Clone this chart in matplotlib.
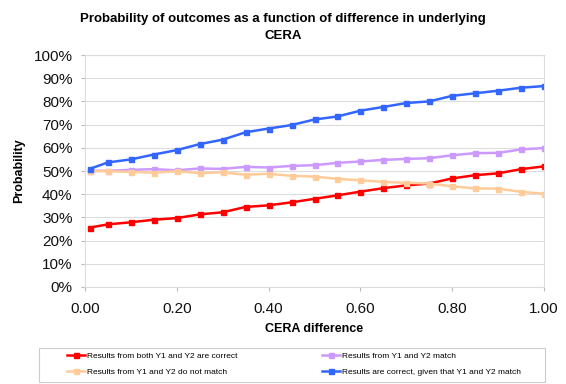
import matplotlib
matplotlib.use("Agg")
import matplotlib.pyplot as plt
from matplotlib.ticker import FuncFormatter, MultipleLocator
from matplotlib.patches import Rectangle

plt.rcParams['font.family'] = ['Liberation Sans', 'DejaVu Sans']

x = [0.01, 0.05, 0.10, 0.15, 0.20, 0.25, 0.30, 0.35, 0.40, 0.45, 0.50,
     0.55, 0.60, 0.65, 0.70, 0.75, 0.80, 0.85, 0.90, 0.95, 1.00]

both_correct = [25.6, 27.0, 27.9, 29.0, 29.7, 31.3, 32.2, 34.5, 35.2, 36.5, 38.0,
                39.5, 41.1, 42.6, 43.8, 44.6, 46.8, 48.2, 49.0, 50.8, 52.0]
match = [50.1, 50.1, 50.5, 50.8, 50.3, 51.1, 50.9, 51.8, 51.5, 52.2, 52.5,
         53.5, 54.1, 54.8, 55.2, 55.5, 56.8, 57.7, 57.8, 59.3, 59.9]
no_match = [49.9, 49.9, 49.6, 49.3, 49.9, 49.1, 49.4, 48.4, 48.8, 47.9, 47.6,
            46.6, 46.0, 45.3, 44.9, 44.6, 43.4, 42.5, 42.4, 41.0, 40.2]
correct_given_match = [50.9, 53.7, 55.0, 57.1, 59.0, 61.6, 63.5, 66.7, 68.3, 69.8, 72.2,
                       73.5, 76.0, 77.6, 79.3, 80.0, 82.4, 83.5, 84.6, 85.9, 86.6]

labels = ["Results from both Y1 and Y2 are correct",
          "Results from Y1 and Y2 match",
          "Results from Y1 and Y2 do not match",
          "Results are correct, given that Y1 and Y2 match"]
colors = ["#FF0000", "#CC99FF", "#FFCC99", "#3366FF"]

W, H = 566, 384
fig = plt.figure(figsize=(W/100, H/100), dpi=100)
ax = fig.add_axes([85/W, 1-287/H, (544-85)/W, (287-55)/H])

series = [both_correct, match, no_match, correct_given_match]
handles = []
for s, c, l in zip(series, colors, labels):
    h, = ax.plot(x, s, color=c, lw=1.8, marker='s', ms=3.6, label=l)
    handles.append(h)

ax.set_xlim(0, 1.0)
ax.set_ylim(0, 100)
ax.yaxis.set_major_locator(MultipleLocator(10))
ax.xaxis.set_major_locator(MultipleLocator(0.2))
ax.yaxis.set_major_formatter(FuncFormatter(lambda v, p: f"{v:.0f}%"))
ax.xaxis.set_major_formatter(FuncFormatter(lambda v, p: f"{v:.2f}"))
ax.grid(axis='y', color='#DDDDDD', lw=0.8)
ax.set_axisbelow(True)
for sp in ax.spines.values():
    sp.set_color('#DDDDDD')
    sp.set_linewidth(0.8)
ax.tick_params(axis='both', labelsize=11, color='#BBBBBB', length=3,
               labelcolor='#111111')
ax.tick_params(axis='x', pad=8)
ax.tick_params(axis='y', pad=6)

ax.set_xlabel("CERA difference", fontsize=9, fontweight='bold', labelpad=5)
ax.set_ylabel("Probability", fontsize=9, fontweight='bold', labelpad=6)
fig.text(0.5, 1-27.5/H, "Probability of outcomes as a function of difference in underlying\nCERA",
         ha='center', va='center', fontsize=9.5, fontweight='bold', linespacing=1.45)

# legend frame
fig.patches.append(Rectangle((39/W, 1-382/H), (545-39)/W, (382-348)/H,
                             transform=fig.transFigure, fill=False,
                             edgecolor='#CCCCCC', lw=0.8))

order = [0, 2, 1, 3]
leg = fig.legend([handles[i] for i in order], [labels[i] for i in order],
                 ncol=2, loc='upper left',
                 bbox_to_anchor=(67/W, 1-352.5/H),
                 fontsize=6.0, frameon=False, handlelength=2.16,
                 borderaxespad=0, borderpad=0,
                 columnspacing=10.1, handletextpad=0.25, labelspacing=0.92)

fig.savefig("out.png", dpi=100)
